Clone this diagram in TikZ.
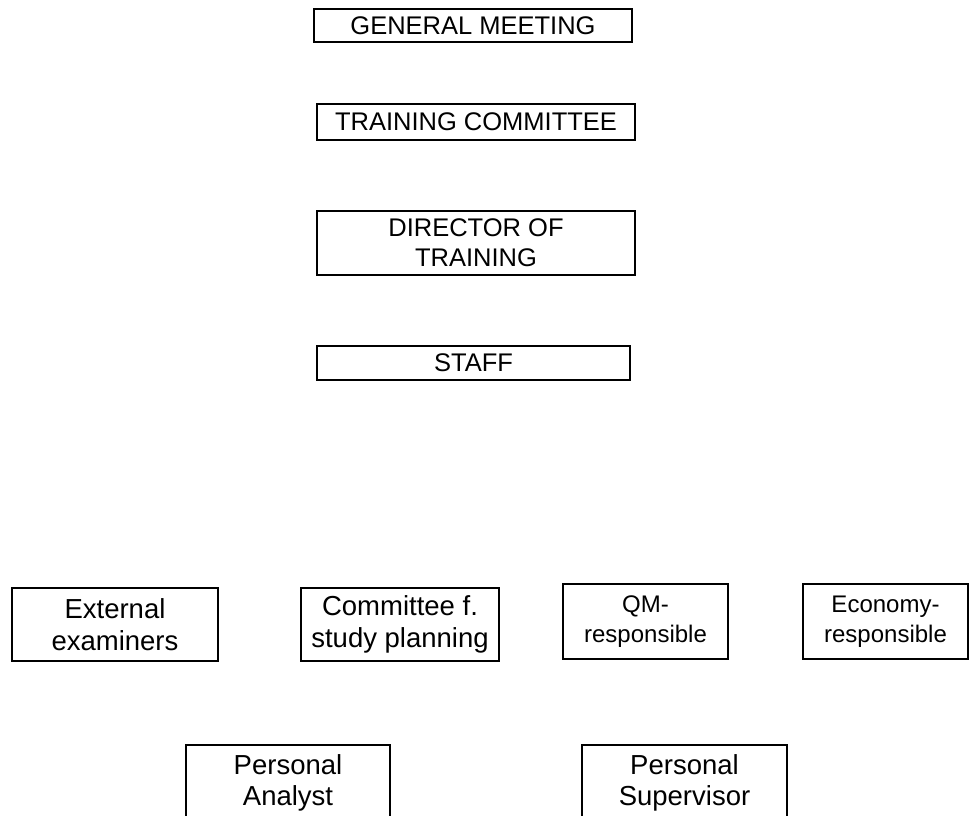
\documentclass[tikz,border=0pt]{standalone}
\usepackage{fontspec}
\setmainfont{Liberation Sans}
\begin{document}
\begin{tikzpicture}[x=1pt,y=-1pt,
  box/.style={draw, line width=1.2pt, inner sep=0pt, align=center,
    font=\fontsize{25.5}{30}\selectfont},
  boxbig/.style={box, font=\fontsize{27.5}{31.5}\selectfont},
  boxsmall/.style={box, font=\fontsize{24}{30}\selectfont}]
\useasboundingbox (0,0) rectangle (969,815);
\clip (0,0) rectangle (969,815);
\node[box, minimum width=318pt, minimum height=33pt] (gm) at (473,25.5) {GENERAL MEETING};
\node[box, minimum width=318pt, minimum height=36pt] (tc) at (476,122) {TRAINING COMMITTEE};
\node[box, minimum width=318pt, minimum height=64pt] (dir) at (476,243) {DIRECTOR OF\\TRAINING};
\node[box, minimum width=313pt, minimum height=34pt] (staff) at (473.5,363) {STAFF};
\node[boxbig, minimum width=206pt, minimum height=73pt] (ext) at (115,624.5) {External\\examiners};
\node[boxbig, minimum width=198pt, minimum height=73pt] (csp) at (400,624.5) {Committee f.\\study planning};
\node[boxsmall, minimum width=165pt, minimum height=75pt] (qm) at (645.5,621.5) {QM-\\responsible};
\node[boxsmall, minimum width=165pt, minimum height=75pt] (eco) at (885.5,621.5) {Economy-\\responsible};
\node[boxbig, minimum width=204pt, minimum height=76pt] (pa) at (288,783) {Personal\\Analyst};
\node[boxbig, minimum width=205pt, minimum height=76pt] (ps) at (684.5,783) {Personal\\Supervisor};
\end{tikzpicture}
\end{document}
